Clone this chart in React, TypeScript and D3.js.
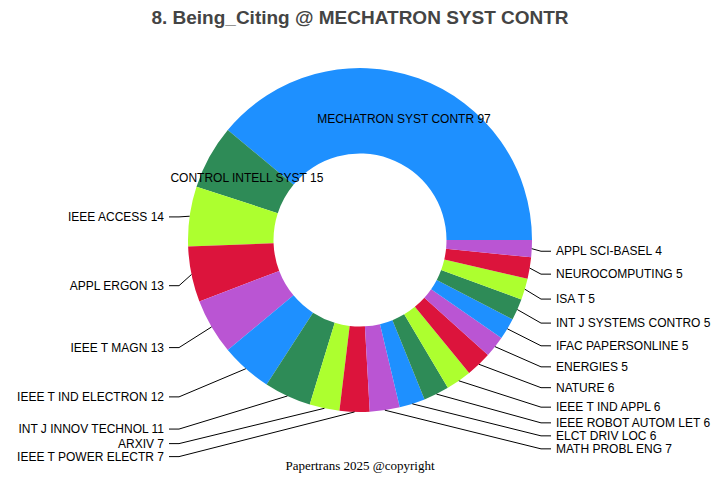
import React, { useEffect } from 'react';
import * as d3 from 'd3';

// data
const journals = [
  'MECHATRON SYST CONTR',
  'CONTROL INTELL SYST',
  'IEEE ACCESS',
  'APPL ERGON',
  'IEEE T MAGN',
  'IEEE T IND ELECTRON',
  'INT J INNOV TECHNOL',
  'ARXIV',
  'IEEE T POWER ELECTR',
  'MATH PROBL ENG',
  'ELCT DRIV LOC',
  'IEEE ROBOT AUTOM LET',
  'IEEE T IND APPL',
  'NATURE',
  'ENERGIES',
  'IFAC PAPERSONLINE',
  'INT J SYSTEMS CONTRO',
  'ISA T',
  'NEUROCOMPUTING',
  'APPL SCI-BASEL',
];
const counts = [97, 15, 14, 13, 13, 12, 11, 7, 7, 7, 6, 6, 6, 6, 5, 5, 5, 5, 5, 4];
const palette = ['#1E90FF', '#2E8B57', '#ADFF2F', '#DC143C', '#BA55D3'];
const title = '8. Being_Citing @ MECHATRON SYST CONTR';
const footer = 'Papertrans 2025 @copyright';

const width = 720;
const height = 480;
const cx = 360;
const cy = 240;
const outerR = 172;
const innerR = 86.5;
const labelR = 203;
const gap = 13;

export default function App() {
  useEffect(() => {
    document.body.style.margin = '0';
  }, []);

  const items = journals.map((name, i) => ({ name, value: counts[i], i }));
  const total = d3.sum(counts);
  const pie = d3
    .pie<any>()
    .sort(null)
    .value((d) => d.value)
    .startAngle(Math.PI / 2)
    .endAngle(Math.PI / 2 - 2 * Math.PI);
  const arcs = pie(items);
  const arc = d3.arc<any>().innerRadius(innerR).outerRadius(outerR);
  const color = d3.scaleOrdinal<number, string>().domain(d3.range(5)).range(palette);

  // labels: big slices inside, the rest outside with leader lines
  const inside = arcs.filter((a) => a.data.value / total > 0.058);
  const outside = arcs
    .filter((a) => a.data.value / total <= 0.058)
    .map((a) => {
      const mid = (a.startAngle + a.endAngle) / 2;
      const side = Math.sin(mid) >= 0 ? 1 : -1;
      return {
        a,
        mid,
        side,
        sx: cx + outerR * Math.sin(mid),
        sy: cy - outerR * Math.cos(mid),
        y: cy - labelR * Math.cos(mid) + (side > 0 ? 1 : 5),
      };
    });
  [1, -1].forEach((s) => {
    const list = outside.filter((o) => o.side === s).sort((p, q) => p.y - q.y);
    for (let k = 1; k < list.length; k++) {
      if (list[k].y - list[k - 1].y < gap) list[k].y = list[k - 1].y + gap;
    }
  });

  return (
    <svg width={width} height={height} style={{ display: 'block' }} fontFamily='Arial, "Liberation Sans", sans-serif'>
      <rect width={width} height={height} fill='#fff' />
      <text x={width / 2} y={24} textAnchor='middle' fontSize={19} fontWeight='bold' fill='#444'>
        {title}
      </text>
      <g transform={`translate(${cx},${cy})`}>
        {arcs.map((a) => (
          <path key={a.data.name} d={arc(a) as string} fill={color(a.data.i % 5)} />
        ))}
      </g>
      {inside.map((a) => {
        const [x, y] = arc.centroid(a);
        return (
          <text key={a.data.name} x={cx + x} y={cy + y} dy='0.35em' textAnchor='middle' fontSize={12} fill='#000'>
            {`${a.data.name} ${a.data.value}`}
          </text>
        );
      })}
      {outside.map((o) => {
        const ex = cx + o.side * (outerR + 9);
        const lx = cx + o.side * (outerR + 19);
        const tx = cx + o.side * (outerR + 24);
        return (
          <g key={o.a.data.name}>
            <polyline
              points={`${o.sx},${o.sy} ${ex},${o.y} ${lx},${o.y}`}
              fill='none'
              stroke='#000'
              strokeWidth={1}
            />
            <text x={tx} y={o.y} dy='0.35em' textAnchor={o.side > 0 ? 'start' : 'end'} fontSize={12} fill='#000'>
              {`${o.a.data.name} ${o.a.data.value}`}
            </text>
          </g>
        );
      })}
      <text x={width / 2} y={470} textAnchor='middle' fontSize={13} fontFamily='"Times New Roman", "Liberation Serif", serif' fill='#000'>
        {footer}
      </text>
    </svg>
  );
}
